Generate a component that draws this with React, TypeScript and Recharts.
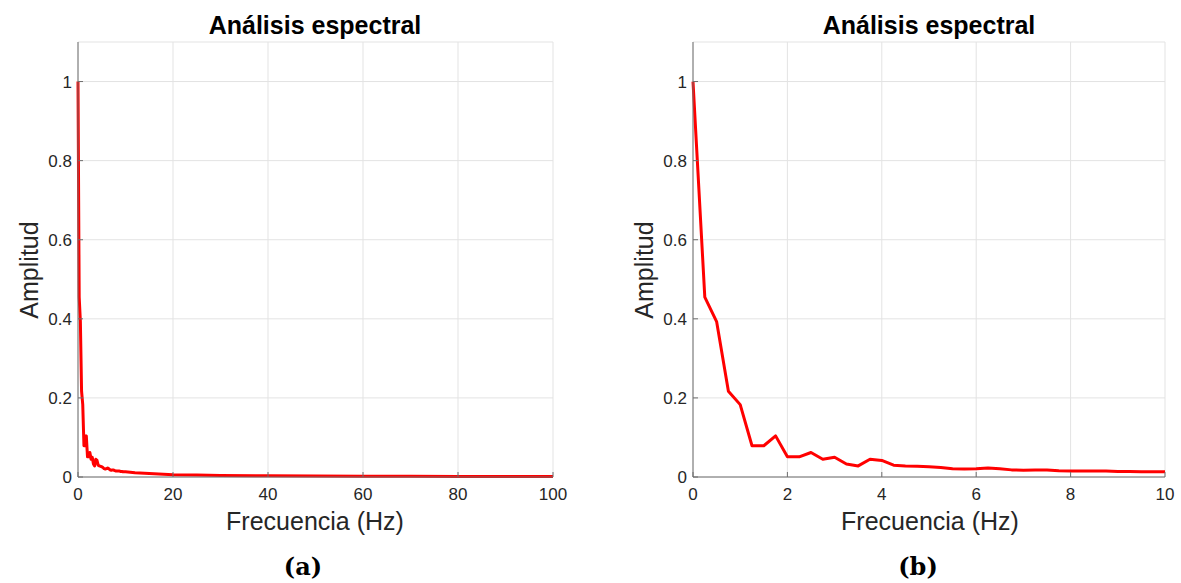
import { CartesianGrid, Line, LineChart, XAxis, YAxis } from "recharts";

const ZOOM_FREQ = [
  0, 0.25, 0.5, 0.75, 1, 1.25, 1.5, 1.75, 2, 2.25, 2.5, 2.75, 3, 3.25, 3.5,
  3.75, 4, 4.25, 4.5, 4.75, 5, 5.25, 5.5, 5.75, 6, 6.25, 6.5, 6.75, 7, 7.25,
  7.5, 7.75, 8, 8.25, 8.5, 8.75, 9, 9.25, 9.5, 9.75, 10,
];
const ZOOM_AMP = [
  1, 0.455, 0.393, 0.217, 0.183, 0.079, 0.079, 0.104, 0.051, 0.051, 0.062,
  0.045, 0.05, 0.033, 0.028, 0.045, 0.042, 0.03, 0.028, 0.027, 0.026, 0.024,
  0.021, 0.02, 0.021, 0.023, 0.021, 0.018, 0.017, 0.018, 0.018, 0.016, 0.015,
  0.015, 0.015, 0.015, 0.014, 0.014, 0.013, 0.013, 0.013,
];

// cola del espectro, 10-100 Hz (gráfico a)
const TAIL_FREQ = [12, 15, 20, 25, 30, 40, 50, 60, 70, 80, 90, 100];
const TAIL_AMP = [
  0.011, 0.009, 0.006, 0.005, 0.004, 0.003, 0.0025, 0.002, 0.0018, 0.0015,
  0.0013, 0.0012,
];

const Y_TICKS = [0, 0.2, 0.4, 0.6, 0.8, 1];
const FULL_X_TICKS = [0, 20, 40, 60, 80, 100];
const ZOOM_X_TICKS = [0, 2, 4, 6, 8, 10];

const TITLE = "Análisis espectral";
const X_LABEL = "Frecuencia (Hz)";
const Y_LABEL = "Amplitud";

const SANS = '"Liberation Sans", Arial, Helvetica, sans-serif';
const AXIS_COLOR = "#6e6e6e";
const GRID_COLOR = "#e3e3e3";
const TICK_STYLE = { fill: "#262626", fontSize: 17, fontFamily: SANS };

const zoomData = ZOOM_FREQ.map((f, i) => ({ f, a: ZOOM_AMP[i] }));
const fullData = [
  ...zoomData,
  ...TAIL_FREQ.map((f, i) => ({ f, a: TAIL_AMP[i] })),
];

interface SpectrumProps {
  data: { f: number; a: number }[];
  xMax: number;
  xTicks: number[];
  width: number;
  marginRight: number;
}

function Spectrum({ data, xMax, xTicks, width, marginRight }: SpectrumProps) {
  return (
    <LineChart
      width={width}
      height={540}
      data={data}
      margin={{ top: 42, right: marginRight, left: 38, bottom: 33 }}
    >
      <CartesianGrid stroke={GRID_COLOR} />
      <XAxis
        dataKey="f"
        type="number"
        domain={[0, xMax]}
        ticks={xTicks}
        height={30}
        tick={TICK_STYLE}
        stroke={AXIS_COLOR}
        tickSize={-5}
        tickMargin={16}
      />
      <XAxis
        xAxisId="top"
        orientation="top"
        dataKey="f"
        type="number"
        domain={[0, xMax]}
        ticks={xTicks}
        height={0}
        tick={false}
        stroke={AXIS_COLOR}
        tickSize={-5}
      />
      <YAxis
        type="number"
        domain={[0, 1.1]}
        ticks={Y_TICKS}
        width={40}
        tick={TICK_STYLE}
        stroke={AXIS_COLOR}
        tickSize={-5}
        tickMargin={11}
      />
      <YAxis
        yAxisId="right"
        orientation="right"
        type="number"
        domain={[0, 1.1]}
        ticks={Y_TICKS}
        width={0}
        tick={false}
        stroke={AXIS_COLOR}
        tickSize={-5}
      />
      <Line
        type="linear"
        dataKey="a"
        stroke="#ff0000"
        strokeWidth={3}
        strokeLinejoin="round"
        dot={false}
        isAnimationActive={false}
      />
    </LineChart>
  );
}

function Text({
  x,
  y,
  children,
  size,
  bold,
  serif,
  rotate,
}: {
  x: number;
  y: number;
  children: string;
  size: number;
  bold?: boolean;
  serif?: boolean;
  rotate?: boolean;
}) {
  return (
    <div
      style={{
        position: "absolute",
        left: x,
        top: y,
        transform: `translate(-50%, -50%)${rotate ? " rotate(-90deg)" : ""}`,
        fontSize: size,
        lineHeight: 1,
        fontWeight: bold ? "bold" : "normal",
        fontFamily: serif ? '"DejaVu Serif", serif' : SANS,
        color: serif || bold ? "#000" : "#262626",
        whiteSpace: "nowrap",
      }}
    >
      {children}
    </div>
  );
}

export default function App() {
  return (
    <div
      style={{
        position: "absolute",
        left: 0,
        top: 0,
        width: 1181,
        height: 583,
        background: "#fff",
        overflow: "hidden",
      }}
    >
      <div style={{ position: "absolute", left: 0, top: 0 }}>
        <Spectrum
          data={fullData}
          xMax={100}
          xTicks={FULL_X_TICKS}
          width={590}
          marginRight={37}
        />
      </div>
      <div style={{ position: "absolute", left: 615, top: 0 }}>
        <Spectrum
          data={zoomData}
          xMax={10}
          xTicks={ZOOM_X_TICKS}
          width={566}
          marginRight={16}
        />
      </div>

      <Text x={315} y={25} size={25} bold>
        {TITLE}
      </Text>
      <Text x={929} y={25} size={25} bold>
        {TITLE}
      </Text>
      <Text x={315} y={521} size={25}>
        {X_LABEL}
      </Text>
      <Text x={930} y={521} size={25}>
        {X_LABEL}
      </Text>
      <Text x={29} y={270} size={25} rotate>
        {Y_LABEL}
      </Text>
      <Text x={644} y={270} size={25} rotate>
        {Y_LABEL}
      </Text>
      <Text x={303} y={567} size={24} bold serif>
        (a)
      </Text>
      <Text x={918} y={567} size={24} bold serif>
        (b)
      </Text>
    </div>
  );
}
